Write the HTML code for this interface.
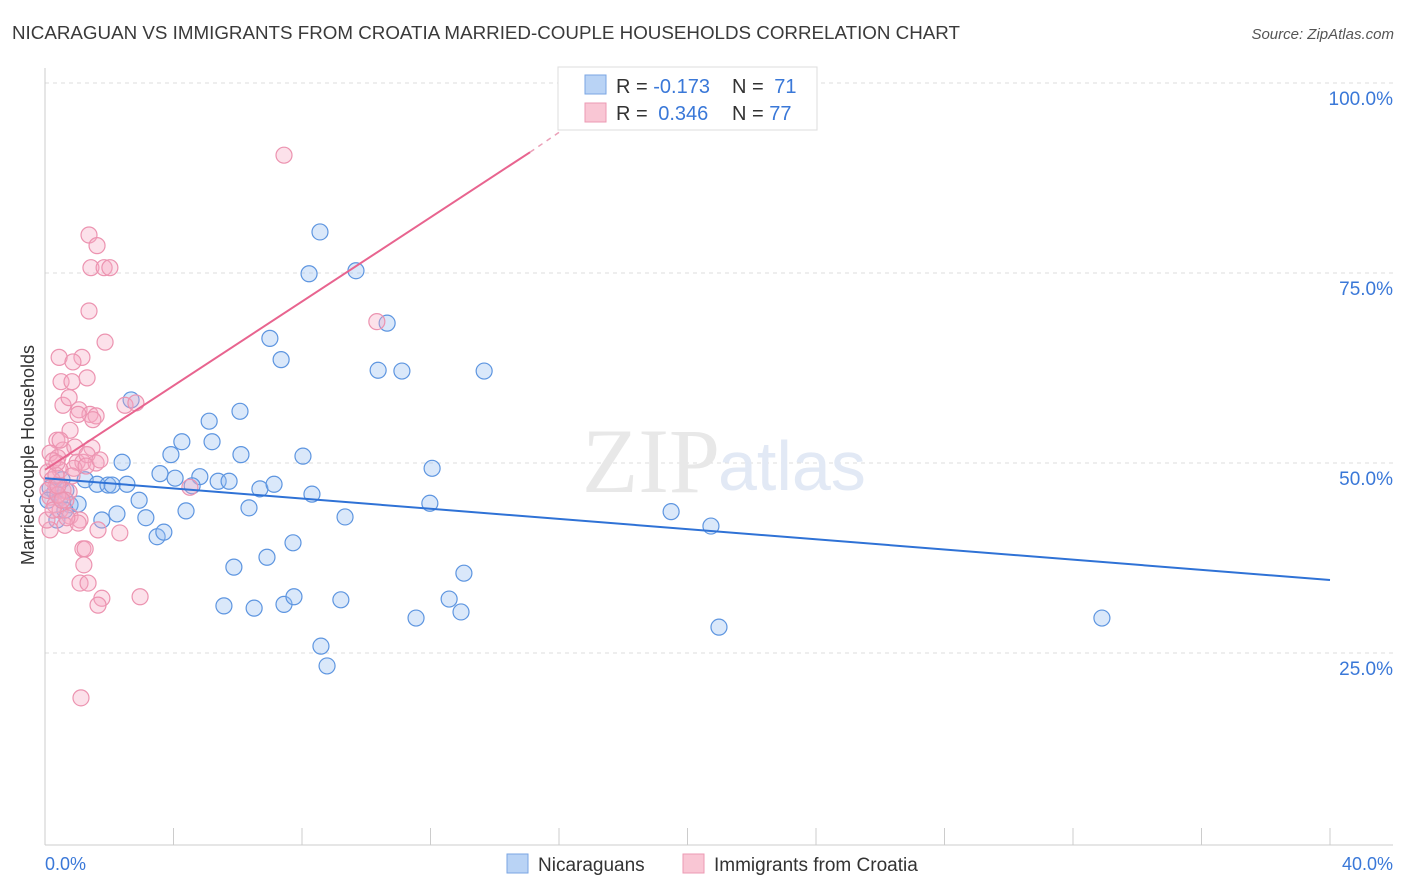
<!DOCTYPE html>
<html><head><meta charset="utf-8"><style>
body{margin:0;background:#fff;font-family:"Liberation Sans",sans-serif;}
svg{display:block}
</style></head><body>
<svg width="1406" height="892" xmlns="http://www.w3.org/2000/svg">
<text x="12" y="39" font-size="18" fill="#3a3a3a" textLength="948" lengthAdjust="spacingAndGlyphs">NICARAGUAN VS IMMIGRANTS FROM CROATIA MARRIED-COUPLE HOUSEHOLDS CORRELATION CHART</text>
<text x="1394" y="39" font-size="15" fill="#555" font-style="italic" text-anchor="end">Source: ZipAtlas.com</text>
<g id="grid"></g>
<text x="720" y="492" font-size="92" fill="#e8e8e8" text-anchor="end" font-family="Liberation Serif,serif">ZIP</text>
<text x="718" y="490" font-size="70" fill="#e2e9f5">atlas</text>
<g id="axes"></g>
<g id="points"></g>
<g id="trends"></g>
<text transform="translate(34,455) rotate(-90)" font-size="18" fill="#333" text-anchor="middle">Married-couple Households</text>
<g>
<rect x="558" y="67" width="259" height="63" fill="#fff" stroke="#ddd"/>
<rect x="585" y="75" width="21" height="19" fill="#b9d3f5" stroke="#7aa6e3"/>
<rect x="585" y="103" width="21" height="19" fill="#f9c6d4" stroke="#ec9ab3"/>
<text x="616" y="93" font-size="20" fill="#333">R = <tspan fill="#3a78d8">-0.173</tspan></text>
<text x="732" y="93" font-size="20" fill="#333">N = <tspan fill="#3a78d8" dx="5">71</tspan></text>
<text x="616" y="120" font-size="20" fill="#333">R = <tspan fill="#3a78d8" dx="5">0.346</tspan></text>
<text x="732" y="120" font-size="20" fill="#333">N = <tspan fill="#3a78d8">77</tspan></text>
</g>
<g>
<rect x="507" y="854" width="21" height="19" fill="#b9d3f5" stroke="#7aa6e3"/>
<text x="538" y="871" font-size="19" fill="#333">Nicaraguans</text>
<rect x="683" y="854" width="21" height="19" fill="#f9c6d4" stroke="#ec9ab3"/>
<text x="714" y="871" font-size="19" fill="#333">Immigrants from Croatia</text>
</g>
</svg>
<script>
const yTicks=[25,50,75,100];
const yTickLabels=["25.0%","50.0%","75.0%","100.0%"];
const xTickLabels=["0.0%","40.0%"];
const blueX=[8.56,8.22,9.68,10.65,7.00,7.35,10.37,11.11,13.67,2.68,6.07,5.11,4.26,5.20,3.92,6.10,8.03,2.40,12.05,3.58,4.05,4.82,5.39,5.73,1.25,1.62,1.96,2.09,2.55,4.58,6.69,7.13,8.31,2.93,6.35,4.39,2.24,3.14,9.34,11.98,19.49,20.73,1.77,3.49,3.70,7.72,6.91,5.88,13.04,5.57,6.51,7.44,7.75,9.21,12.58,11.55,12.95,32.90,20.98,8.59,8.78,0.31,0.47,0.65,0.78,1.03,0.16,0.37,0.53,0.09,0.62];
const blueY=[80.4,74.9,75.3,68.4,66.4,63.6,62.2,62.1,62.1,58.3,56.8,55.5,52.8,52.8,51.1,51.1,50.9,50.1,49.3,48.6,48.0,48.2,47.6,47.6,47.8,47.2,47.1,47.1,47.2,47.0,46.6,47.2,45.9,45.1,44.1,43.7,43.3,42.8,42.9,44.7,43.6,41.7,42.5,40.3,40.9,39.5,37.6,36.3,35.5,31.2,30.9,31.4,32.4,32.0,32.1,29.6,30.4,29.6,28.4,25.9,23.3,46.2,45.4,46.4,44.5,44.6,46.7,42.5,47.8,45.1,43.8];
const pinkX=[7.44,1.37,1.62,1.43,1.84,2.02,1.37,1.87,0.44,1.15,0.87,0.50,0.84,1.31,2.49,2.83,0.56,0.75,1.06,1.40,1.59,1.49,1.03,0.78,0.37,1.46,0.56,0.16,0.40,1.00,1.18,1.59,0.90,0.47,0.09,0.22,0.34,0.56,0.75,0.16,0.31,0.47,0.78,1.09,0.62,1.03,1.65,2.33,0.16,0.06,1.18,1.25,1.21,1.09,1.34,1.77,1.65,2.96,1.12,10.33,4.51,0.47,0.65,0.84,0.34,0.25,0.09,0.40,0.93,1.31,0.25,0.53,0.68,0.40,1.28,1.71,0.37];
const pinkY=[90.5,80.0,78.6,75.7,75.7,75.7,70.0,65.9,63.9,63.9,63.3,60.7,60.7,61.2,57.6,57.9,57.6,58.6,57.0,56.4,56.2,55.7,56.4,54.3,53.0,52.0,51.7,51.3,50.7,50.1,50.1,50.0,49.3,49.1,48.8,47.8,47.0,46.4,46.2,45.5,44.5,43.8,43.0,42.5,41.8,42.1,41.2,40.8,41.2,42.5,38.7,38.7,36.6,34.2,34.2,32.2,31.3,32.4,19.1,68.6,46.8,53.0,45.1,48.3,48.4,50.3,46.4,45.8,52.1,51.1,43.8,45.1,42.8,47.0,49.6,50.4,50.0];
const blueTrendX=[0,40];
const blueTrendY=[48.0,34.6];
const pinkTrendX=[0,15.1];
const pinkTrendY=[49.1,90.9];
const pinkDashX=[15.1,17.0];
const pinkDashY=[90.9,96.4];

const NS="http://www.w3.org/2000/svg";
const X0=45,X1=1330,Y0=843,Y100=83;
function sx(v){return X0+(X1-X0)*v/40;}
function sy(v){return Y0-(Y0-Y100)*v/100;}
function mk(tag,attrs,parent){const e=document.createElementNS(NS,tag);for(const k in attrs)e.setAttribute(k,attrs[k]);parent.appendChild(e);return e;}
const grid=document.getElementById('grid'),axes=document.getElementById('axes'),pts=document.getElementById('points'),tr=document.getElementById('trends');
yTicks.forEach((t,i)=>{
  const l=mk('line',{x1:X0,x2:1393,y1:sy(t),y2:sy(t),stroke:'#ddd','stroke-dasharray':'4,4'},grid);
  
  
  const tx=mk('text',{x:1393,y:sy(t)+22,'font-size':19,fill:'#3a78d8','text-anchor':'end'},grid);
  tx.textContent=yTickLabels[i];
  
  
});
const ya=mk('line',{x1:X0,x2:X0,y1:68,y2:845,stroke:'#ccc'},axes);


const xa=mk('line',{x1:X0,x2:1393,y1:845,y2:845,stroke:'#ccc'},axes);


for(let i=0;i<=10;i++){
  const t=mk('line',{x1:sx(i*4),x2:sx(i*4),y1:828,y2:845,stroke:'#ccc'},axes);
  
  
}
const xl0=mk('text',{x:45,y:870,'font-size':18,fill:'#3a78d8'},axes);xl0.textContent=xTickLabels[0];


const xl1=mk('text',{x:1393,y:870,'font-size':18,fill:'#3a78d8','text-anchor':'end'},axes);xl1.textContent=xTickLabels[1];


blueX.forEach((x,i)=>{
  const c=mk('circle',{cx:sx(x),cy:sy(blueY[i]),r:8,fill:'rgba(150,190,240,0.35)',stroke:'#5d95e0','stroke-width':1.2},pts);
  
  
});
pinkX.forEach((x,i)=>{
  const c=mk('circle',{cx:sx(x),cy:sy(pinkY[i]),r:8,fill:'rgba(245,170,195,0.35)',stroke:'#ec93b0','stroke-width':1.2},pts);
  
  
});
const bt=mk('line',{x1:sx(blueTrendX[0]),y1:sy(blueTrendY[0]),x2:sx(blueTrendX[1]),y2:sy(blueTrendY[1]),stroke:'#2f72d6','stroke-width':2},tr);


const pt=mk('line',{x1:sx(pinkTrendX[0]),y1:sy(pinkTrendY[0]),x2:sx(pinkTrendX[1]),y2:sy(pinkTrendY[1]),stroke:'#e8648f','stroke-width':2},tr);


const pd=mk('line',{x1:sx(pinkDashX[0]),y1:sy(pinkDashY[0]),x2:sx(pinkDashX[1]),y2:sy(pinkDashY[1]),stroke:'#eba0b8','stroke-width':1.5,'stroke-dasharray':'5,5'},tr);


</script>
</body></html>
